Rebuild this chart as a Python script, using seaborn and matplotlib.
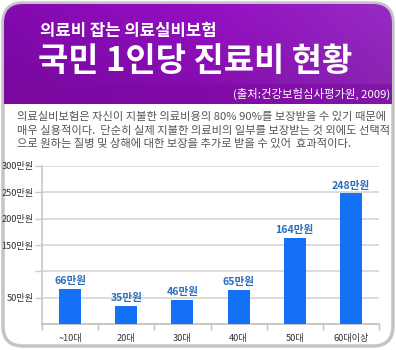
import numpy as np
import pandas as pd
import matplotlib
matplotlib.use("Agg")
import matplotlib.pyplot as plt
from matplotlib.patches import FancyBboxPatch
import seaborn as sns

# ---- data ----
categories = ["~10대", "20대", "30대", "40대", "50대", "60대이상"]
values = [66, 35, 46, 65, 164, 248]
value_labels = [f"{v}만원" for v in values]
ytick_values = [50, 100, 150, 200, 250, 300]
ytick_labels = ["50만원", "", "150만원", "200만원", "250만원", "300만원"]

title_small = "의료비 잡는 의료실비보험"
title_big = "국민 1인당 진료비 현황"
source = "(출처:건강보험심사평가원, 2009)"
paragraph = [
    "의료실비보험은 자신이 지불한 의료비용의 80% 90%를 보장받을 수 있기 때문에",
    "매우 실용적이다.  단순히 실제 지불한 의료비의 일부를 보장받는 것 외에도 선택적",
    "으로 원하는 질병 및 상해에 대한 보장을 추가로 받을 수 있어  효과적이다.",
]

sns.set_theme(style="white")
plt.rcParams["font.family"] = ["Noto Sans CJK KR", "DejaVu Sans"]

W, H = 396, 350
fig = plt.figure(figsize=(W / 100, H / 100), dpi=100)
fig.patch.set_facecolor("white")

bg = fig.add_axes([0, 0, 1, 1])
bg.set_xlim(0, W)
bg.set_ylim(H, 0)
bg.axis("off")

# outer rounded card
card = FancyBboxPatch((3, 3), 390, 343, boxstyle="round,pad=0,rounding_size=20",
                      facecolor="white", edgecolor="#c4c4c4", lw=2.5, zorder=1)
bg.add_patch(card)

# header gradient
ny, nx = 100, 200
yy = np.linspace(0, 1, ny)[:, None]
xx = np.linspace(0, 1, nx)[None, :]
c_left = np.array([0x84, 0x0a, 0xb0]) / 255
c_mid = np.array([0x94, 0x0e, 0xc2]) / 255
c_right = np.array([0x98, 0x2a, 0xc4]) / 255
t = xx
base = np.where(t[..., None] < 0.5,
                c_left + (c_mid - c_left) * (t[..., None] / 0.5),
                c_mid + (c_right - c_mid) * ((t[..., None] - 0.5) / 0.5))
img = np.repeat(base, ny, axis=0)
dark = np.array([0x74, 0x08, 0x94]) / 255
band = (yy > 0.8)[..., None]
img = np.where(band, dark * 0.6 + img * 0.4, img * (1 - 0.12 * yy[..., None]))
img = np.clip(img, 0, 1)
clip = FancyBboxPatch((4, 4), 388, 160, boxstyle="round,pad=0,rounding_size=19",
                      facecolor="none", edgecolor="none", transform=bg.transData)
bg.add_patch(clip)
im = bg.imshow(img, extent=(4, 392, 104, 4), aspect="auto", zorder=2)
im.set_clip_path(clip)

bg.text(40, 31, title_small, color="white", fontsize=12, fontweight="bold",
        va="center", ha="left", zorder=3)
bg.text(38, 61, title_big, color="white", fontsize=23.7, fontweight="bold",
        va="center", ha="left", zorder=3)
bg.text(390, 94, source, color="white", fontsize=8.2, va="center", ha="right", zorder=3)

for i, line in enumerate(paragraph):
    bg.text(17, 117 + i * 13.5, line, color="#555555", fontsize=8.1,
            va="center", ha="left", zorder=3)

# ---- chart ----
ax = fig.add_axes([42 / W, 1 - 324 / H, (379 - 42) / W, (324 - 166) / H])
ax.set_facecolor("none")
df = pd.DataFrame({"age": categories, "cost": values})
sns.barplot(data=df, x="age", y="cost", color="#1470f4", saturation=1,
            width=0.39, ax=ax, zorder=3)
for p in ax.patches:
    p.set_edgecolor("none")
ax.bar_label(ax.containers[0], labels=value_labels, padding=2,
             color="#2a6db8", fontsize=7.6, fontweight="bold")

ax.set_xlim(-0.5, 5.5)
ax.set_ylim(0, 300)
ax.set_yticks(ytick_values)
ax.set_yticklabels(ytick_labels)
ax.set_xlabel("")
ax.set_ylabel("")
ax.yaxis.grid(True, color="#d9d9d9", lw=1.3, zorder=0)
ax.set_axisbelow(True)
for s in ["top", "right"]:
    ax.spines[s].set_visible(False)
ax.spines["left"].set_color("#c8c8c8")
ax.spines["bottom"].set_color("#bdbdbd")
ax.spines["left"].set_linewidth(1.2)
ax.spines["bottom"].set_linewidth(1.2)
ax.tick_params(axis="y", left=True, length=5, width=1, color="#c8c8c8",
               labelsize=6.6, labelcolor="#333333", pad=1)
for lab in ax.get_yticklabels():
    lab.set_fontweight("medium")
ax.set_xticks(range(len(categories)))
ax.set_xticklabels(categories)
ax.tick_params(axis="x", bottom=False, labelsize=6.6, labelcolor="#333333", pad=1.5)
for lab in ax.get_xticklabels():
    lab.set_fontweight("medium")
ax.set_xticks(np.arange(-0.5, 6.0, 1.0), minor=True)
ax.tick_params(axis="x", which="minor", bottom=True, length=4, width=1, color="#bdbdbd")

fig.savefig("out.png", dpi=100, facecolor="white")
